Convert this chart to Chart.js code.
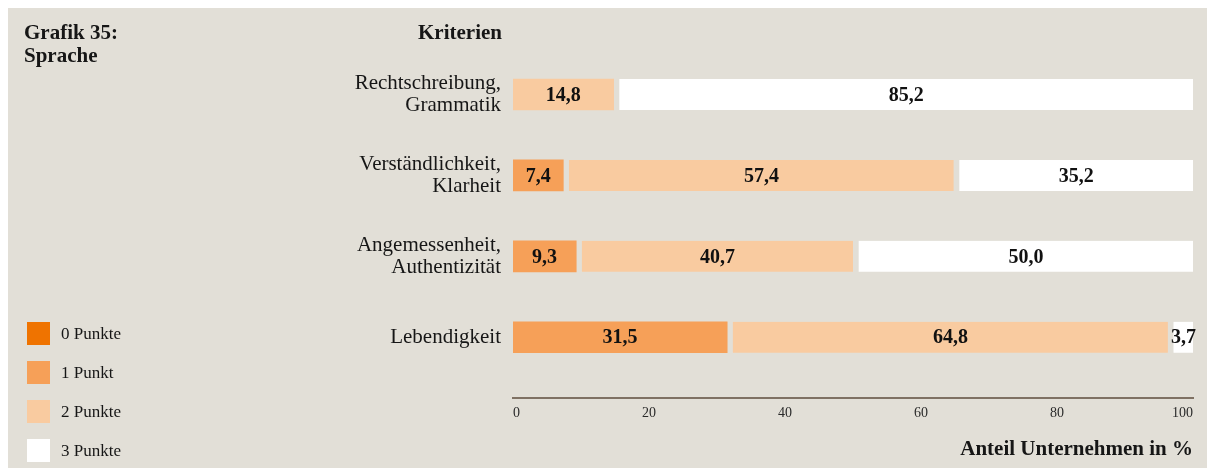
<!DOCTYPE html>
<html lang="de">
<head>
<meta charset="utf-8">
<title>Grafik 35: Sprache</title>
<script src="https://cdn.jsdelivr.net/npm/chart.js@4/dist/chart.umd.min.js"></script>
<style>
  html, body { margin: 0; padding: 0; background: #fff; }
  body { width: 1214px; height: 468px; position: relative; overflow: hidden; font-family: 'Liberation Serif', serif; color: #161616; }
  #panel { position: absolute; left: 8px; top: 8px; right: 7px; bottom: 0; background: #e2dfd7; }
  #chart { position: absolute; left: 0; top: 0; }
  .head { position: absolute; top: 21px; font-weight: bold; font-size: 21px; line-height: 23px; }
  #grafik { left: 24px; }
  #kriterien { right: 712px; }
  #legend { position: absolute; left: 27px; top: 322px; }
  .item { display: flex; align-items: center; height: 23px; margin-bottom: 16px; font-size: 17px; }
  .box { width: 23px; height: 23px; margin-right: 11px; }
</style>
</head>
<body>
<div id="panel"></div>
<canvas id="chart" width="1214" height="468"></canvas>
<div class="head" id="grafik">Grafik 35:<br>Sprache</div>
<div class="head" id="kriterien">Kriterien</div>
<div id="legend"></div>
<script>
(() => {
  'use strict';

  const categories = [
    ['Rechtschreibung,', 'Grammatik'],
    ['Verständlichkeit,', 'Klarheit'],
    ['Angemessenheit,', 'Authentizität'],
    ['Lebendigkeit']
  ];
  const seriesNames = ['0 Punkte', '1 Punkt', '2 Punkte', '3 Punkte'];
  const punkte0 = [0, 0, 0, 0];
  const punkte1 = [0, 7.4, 9.3, 31.5];
  const punkte2 = [14.8, 57.4, 40.7, 64.8];
  const punkte3 = [85.2, 35.2, 50.0, 3.7];
  const xTicks = [0, 20, 40, 60, 80, 100];
  const xTitle = 'Anteil Unternehmen in %';

  const colors = ['#ef7300', '#f6a058', '#f9cba0', '#ffffff'];
  const bg = '#e2dfd7';
  const GAP = 6;
  const series = [punkte0, punkte1, punkte2, punkte3];

  const fmt = v => v.toFixed(1).replace('.', ',');
  const firstIdx = row => series.findIndex(s => s[row] > 0);

  // legend
  const legendEl = document.getElementById('legend');
  seriesNames.forEach((name, i) => {
    const item = document.createElement('div');
    item.className = 'item';
    item.innerHTML = `<span class="box" style="background:${colors[i]}"></span><span>${name}</span>`;
    legendEl.appendChild(item);
  });

  const valueLabels = {
    id: 'valueLabels',
    afterDatasetsDraw(chart) {
      const ctx = chart.ctx;
      ctx.save();
      ctx.font = 'bold 20px "Liberation Serif"';
      ctx.textAlign = 'center';
      ctx.textBaseline = 'middle';
      ctx.fillStyle = '#111';
      chart.data.datasets.forEach((ds, di) => {
        chart.getDatasetMeta(di).data.forEach((bar, i) => {
          const v = ds.data[i].x;
          if (!v) return;
          const gap = firstIdx(i) === di ? 0 : GAP;
          ctx.fillText(fmt(v), (bar.base + gap + bar.x) / 2, bar.y + 1);
        });
      });
      ctx.restore();
    }
  };

  const datasets = series.map((vals, di) => ({
    label: seriesNames[di],
    data: vals.map((v, i) => ({ x: v || null, y: i })),
    backgroundColor: colors[di],
    borderColor: bg,
    borderSkipped: false,
    borderWidth: ctx => ({ left: firstIdx(ctx.dataIndex) === di ? 0 : GAP, right: 0, top: 0, bottom: 0 }),
    barThickness: 31
  }));

  new Chart(document.getElementById('chart'), {
    type: 'bar',
    data: { datasets },
    options: {
      indexAxis: 'y',
      responsive: false,
      animation: false,
      devicePixelRatio: 1,
      layout: { padding: { top: 54, right: 21, bottom: 0, left: 0 } },
      plugins: { legend: { display: false }, tooltip: { enabled: false } },
      scales: {
        x: {
          type: 'linear',
          stacked: true,
          min: 0,
          max: 100,
          afterBuildTicks: s => { s.ticks = xTicks.map(v => ({ value: v })); },
          afterFit: s => { s.height = 70; },
          grid: { display: false, drawTicks: false },
          border: { display: true, color: '#7f7163', width: 2 },
          ticks: { align: 'inner', padding: 7, color: '#2a2a2a', font: { family: 'Liberation Serif', size: 14 } },
          title: {
            display: true, text: xTitle, align: 'end', color: '#161616',
            padding: { top: 0, bottom: 6 },
            font: { family: 'Liberation Serif', size: 21, weight: 'bold' }
          }
        },
        y: {
          type: 'linear',
          stacked: true,
          reverse: true,
          offset: false,
          min: -0.5,
          max: 3.75,
          afterBuildTicks: s => { s.ticks = categories.map((c, i) => ({ value: i })); },
          afterFit: s => { s.width = 513; },
          grid: { display: false, drawTicks: false },
          border: { display: false },
          ticks: {
            padding: 12,
            color: '#161616',
            callback: v => categories[v],
            font: { family: 'Liberation Serif', size: 21, lineHeight: 1.07 }
          }
        }
      }
    },
    plugins: [valueLabels]
  });
})();
</script>
</body>
</html>
